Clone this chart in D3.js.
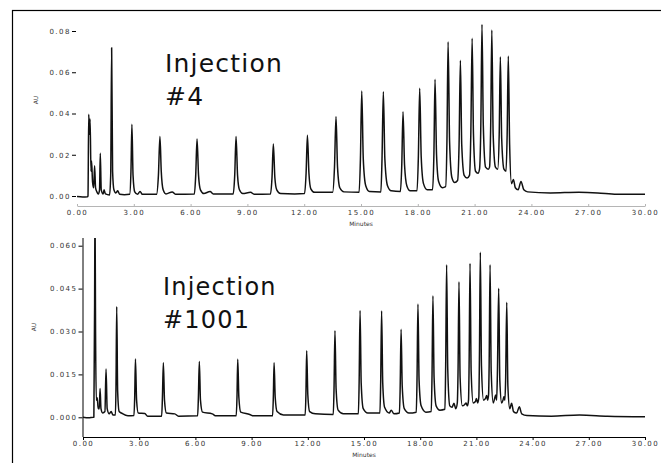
<!DOCTYPE html>
<html>
<head>
<meta charset="utf-8">
<script src="https://cdn.jsdelivr.net/npm/d3@7"></script>
<style>
body { margin: 0; background: #fff; }
text { font-family: "DejaVu Sans", Verdana, sans-serif; }
</style>
</head>
<body>
<div id="chart"></div>
<script>
// chromatogram traces: [minutes, AU]
var inj4 = [
	[0, -0.0003], [0.3, -0.0005], [0.55, -0.0004], [0.58, 0.000], [0.62, 0.0396], [0.66, 0.030], [0.69, 0.0373],
	[0.74, 0.012], [0.77, 0.017], [0.82, 0.007], [0.88, 0.004], [0.93, 0.0147], [0.98, 0.004], [1.05, 0.002],
	[1.13, 0.001], [1.19, 0.003], [1.23, 0.0207], [1.28, 0.003], [1.38, 0.001], [1.43, 0.003], [1.5, 0.001],
	[1.72, 0.0005], [1.78, 0.010], [1.83, 0.0719], [1.88, 0.012], [1.95, 0.003], [2.05, 0.0015], [2.15, 0.0025],
	[2.25, 0.0008], [2.5, 0.0006], [2.78, 0.0008], [2.85, 0.012], [2.90, 0.0348], [2.96, 0.010], [3.05, 0.002],
	[3.2, 0.0008], [3.33, 0.0022], [3.45, 0.0008], [4.2, 0.0008], [4.3, 0.010], [4.38, 0.0288], [4.45, 0.012],
	[4.55, 0.003], [4.7, 0.001], [5.03, 0.002], [5.2, 0.0008], [6.2, 0.001], [6.27, 0.010], [6.34, 0.0276],
	[6.42, 0.010], [6.52, 0.003], [6.7, 0.0012], [7.03, 0.0022], [7.2, 0.001], [8.25, 0.001], [8.33, 0.010],
	[8.40, 0.0288], [8.48, 0.010], [8.58, 0.003], [8.75, 0.0012], [9.17, 0.0018], [9.35, 0.0009], [10.22, 0.001],
	[10.30, 0.009], [10.37, 0.0252], [10.45, 0.009], [10.55, 0.003], [10.75, 0.0012], [11.5, 0.001], [12.02, 0.0012],
	[12.10, 0.011], [12.17, 0.0294], [12.25, 0.011], [12.35, 0.0035], [12.55, 0.0018], [13.5, 0.0018], [13.6, 0.014],
	[13.68, 0.0385], [13.76, 0.014], [13.88, 0.004], [14.1, 0.002], [14.9, 0.0018], [14.97, 0.018], [15.04, 0.0509],
	[15.12, 0.018], [15.25, 0.005], [15.45, 0.0022], [16.05, 0.002], [16.11, 0.018], [16.18, 0.0506], [16.26, 0.018],
	[16.4, 0.005], [16.6, 0.0025], [17.08, 0.0022], [17.15, 0.014], [17.22, 0.0409], [17.30, 0.015], [17.42, 0.005],
	[17.6, 0.0025], [17.96, 0.0025], [18.03, 0.019], [18.10, 0.0522], [18.18, 0.019], [18.3, 0.006], [18.5, 0.003],
	[18.78, 0.003], [18.85, 0.020], [18.91, 0.0566], [18.99, 0.020], [19.1, 0.007], [19.3, 0.004], [19.47, 0.0045],
	[19.54, 0.027], [19.60, 0.0748], [19.68, 0.026], [19.8, 0.009], [19.95, 0.0065], [20.1, 0.0075], [20.18, 0.025],
	[20.25, 0.0658], [20.32, 0.025], [20.45, 0.010], [20.6, 0.0087], [20.73, 0.010], [20.80, 0.030], [20.87, 0.0765],
	[20.94, 0.030], [21.05, 0.012], [21.18, 0.011], [21.26, 0.013], [21.33, 0.035], [21.39, 0.0832], [21.46, 0.034],
	[21.58, 0.014], [21.72, 0.013], [21.79, 0.014], [21.85, 0.034], [21.91, 0.0805], [21.98, 0.030], [22.1, 0.014],
	[22.22, 0.013], [22.30, 0.030], [22.36, 0.0675], [22.43, 0.028], [22.55, 0.013], [22.66, 0.012], [22.72, 0.030],
	[22.78, 0.0679], [22.85, 0.025], [22.95, 0.006], [23.05, 0.008], [23.15, 0.004], [23.3, 0.003], [23.45, 0.007],
	[23.6, 0.003], [23.8, 0.002], [25, 0.0015], [26.5, 0.0018], [27.5, 0.0015], [28.5, 0.0008], [30, 0.0008]
];

var inj1001 = [
	[0, 0.0], [0.3, -0.0002], [0.55, 0.0], [0.58, 0.000], [0.62, 0.040], [0.64, 0.075], [0.67, 0.030], [0.71, 0.006],
	[0.76, 0.0068], [0.81, 0.003], [0.87, 0.003], [0.91, 0.0101], [0.96, 0.003], [1.05, 0.0015], [1.17, 0.002],
	[1.23, 0.0169], [1.29, 0.003], [1.4, 0.0012], [1.5, 0.002], [1.6, 0.0008], [1.73, 0.0008], [1.76, 0.010],
	[1.80, 0.0387], [1.85, 0.009], [1.93, 0.002], [2.05, 0.0015], [2.4, 0.0005], [2.72, 0.0006], [2.76, 0.007],
	[2.80, 0.0204], [2.86, 0.006], [2.95, 0.0015], [3.3, 0.0013], [3.45, 0.0004], [4.2, 0.0004], [4.24, 0.007],
	[4.29, 0.0191], [4.35, 0.006], [4.45, 0.0015], [4.9, 0.0012], [5.1, 0.0004], [6.12, 0.0005], [6.16, 0.007],
	[6.21, 0.0195], [6.27, 0.006], [6.38, 0.0018], [6.9, 0.0012], [7.1, 0.0005], [8.18, 0.0005], [8.22, 0.007],
	[8.26, 0.0203], [8.32, 0.007], [8.42, 0.0018], [8.9, 0.001], [9.1, 0.0005], [10.12, 0.0005], [10.16, 0.007],
	[10.20, 0.0191], [10.26, 0.007], [10.36, 0.002], [10.7, 0.0008], [11.86, 0.0008], [11.90, 0.008], [11.94, 0.0233],
	[12.0, 0.008], [12.1, 0.002], [12.4, 0.0012], [13.36, 0.001], [13.40, 0.010], [13.45, 0.0303], [13.51, 0.010],
	[13.62, 0.0025], [13.9, 0.0012], [14.70, 0.0012], [14.74, 0.012], [14.79, 0.0373], [14.85, 0.012], [14.96, 0.003],
	[15.2, 0.0015], [15.85, 0.0015], [15.89, 0.012], [15.94, 0.0372], [16.0, 0.012], [16.1, 0.0035], [16.35, 0.0015],
	[16.45, 0.0025], [16.6, 0.0012], [16.89, 0.0015], [16.93, 0.010], [16.98, 0.0308], [17.04, 0.011], [17.15, 0.003],
	[17.4, 0.0015], [17.79, 0.0018], [17.83, 0.013], [17.88, 0.0396], [17.94, 0.013], [18.05, 0.004], [18.3, 0.0018],
	[18.59, 0.002], [18.63, 0.014], [18.68, 0.0425], [18.74, 0.014], [18.85, 0.004], [19.05, 0.0025], [19.32, 0.0028],
	[19.36, 0.018], [19.41, 0.0533], [19.47, 0.017], [19.58, 0.004], [19.7, 0.0035], [19.80, 0.0049], [19.9, 0.003],
	[19.98, 0.005], [20.02, 0.016], [20.07, 0.0474], [20.13, 0.014], [20.25, 0.004], [20.38, 0.0045], [20.45, 0.005],
	[20.52, 0.004], [20.58, 0.006], [20.61, 0.018], [20.66, 0.0538], [20.72, 0.016], [20.83, 0.005], [20.95, 0.0055],
	[21.0, 0.0066], [21.07, 0.005], [21.13, 0.007], [21.16, 0.020], [21.21, 0.0577], [21.27, 0.018], [21.38, 0.006],
	[21.48, 0.0065], [21.55, 0.0076], [21.6, 0.006], [21.65, 0.008], [21.68, 0.018], [21.73, 0.0533], [21.79, 0.016],
	[21.9, 0.005], [21.97, 0.0065], [22.03, 0.0078], [22.08, 0.006], [22.12, 0.015], [22.19, 0.0451], [22.25, 0.013],
	[22.35, 0.005], [22.42, 0.006], [22.47, 0.0072], [22.52, 0.006], [22.56, 0.013], [22.62, 0.0402], [22.68, 0.011],
	[22.78, 0.003], [22.88, 0.0049], [22.98, 0.002], [23.15, 0.0015], [23.29, 0.0037], [23.42, 0.0012], [23.7, 0.0006],
	[25, 0.0004], [26.5, 0.0008], [28, 0.0004], [30, 0.0002]
];

var xTicks = [0, 3, 6, 9, 12, 15, 18, 21, 24, 27, 30];
var yTicks4 = [0, 0.02, 0.04, 0.06, 0.08];
var yTicks1001 = [0, 0.015, 0.030, 0.045, 0.060];
var labels = [["Injection", "#4"], ["Injection", "#1001"]];

var svg = d3.select("#chart")
	.append("svg")
	.attr("width", 661)
	.attr("height", 463);

// outer frame, runs off right and bottom
svg.append("rect")
	.attr("x", 12.5).attr("y", 10.5)
	.attr("width", 700).attr("height", 500)
	.attr("fill", "none")
	.attr("stroke", "#000")
	.attr("stroke-width", 1.2);

function panel(cfg) {
	var x = d3.scaleLinear().domain([0, 30]).range([cfg.left, 645]);
	var y = d3.scaleLinear().domain(cfg.yDomain).range(cfg.yRange);
	var g = svg.append("g");

	g.append("clipPath").attr("id", cfg.id)
		.append("rect")
		.attr("x", cfg.left).attr("y", cfg.clipTop)
		.attr("width", 645 - cfg.left).attr("height", cfg.axisY - cfg.clipTop);

	// x axis
	var xa = g.append("g")
		.attr("transform", "translate(0," + cfg.axisY + ")")
		.call(d3.axisBottom(x).tickValues(xTicks).tickFormat(d3.format(".2f")).tickSize(cfg.xTick).tickSizeOuter(0));
	xa.select(".domain").attr("stroke", cfg.axisColor);
	xa.selectAll(".tick line").attr("stroke", cfg.axisColor);
	xa.selectAll("text")
		.attr("dy", "0.71em").attr("y", 4)
		.attr("fill", "#333").style("font-size", "7px").style("letter-spacing", "1.5px");

	// y axis
	var ya = g.append("g")
		.attr("transform", "translate(" + cfg.yAxisX + ",0)")
		.call(d3.axisLeft(y).tickValues(cfg.yTicks).tickFormat(d3.format(cfg.fmt)).tickSize(4).tickSizeOuter(0));
	if (cfg.yLine) {
		ya.select(".domain").attr("d", "M0.5," + cfg.clipTop + "V" + cfg.axisY).attr("stroke", "#000");
	} else {
		ya.select(".domain").remove();
	}
	ya.selectAll("text")
		.attr("x", -5)
		.attr("fill", "#333").style("font-size", "7px").style("letter-spacing", "1.5px");

	g.append("text")
		.attr("transform", "translate(" + cfg.auX + "," + cfg.auY + ") rotate(-90)")
		.attr("text-anchor", "middle")
		.attr("fill", "#333").style("font-size", "6px")
		.text("AU");

	g.append("text")
		.attr("x", (cfg.left + 645) / 2).attr("y", cfg.minutesY)
		.attr("text-anchor", "middle")
		.attr("fill", "#333").style("font-size", "6px")
		.text("Minutes");

	var line = d3.line()
		.curve(d3.curveMonotoneX)
		.x(function(d) { return x(d[0]); })
		.y(function(d) { return y(d[1]); });

	g.append("path")
		.datum(cfg.data)
		.attr("clip-path", "url(#" + cfg.id + ")")
		.attr("fill", "none")
		.attr("stroke", "#111")
		.attr("stroke-width", 1.5)
		.attr("stroke-linejoin", "round")
		.attr("d", line);

	var t = g.append("text")
		.attr("x", cfg.textX).attr("y", cfg.textY)
		.attr("fill", "#111")
		.style("font-size", cfg.textSize + "px")
		.style("letter-spacing", "1.2px");
	t.append("tspan").attr("x", cfg.textX).text(cfg.label[0]);
	t.append("tspan").attr("x", cfg.textX).attr("dy", 33).text(cfg.label[1]);
}

panel({
	id: "clip4", data: inj4, label: labels[0], left: 77, yAxisX: 76,
	yDomain: [0, 0.08], yRange: [196, 31], yTicks: yTicks4, fmt: ".2f",
	axisY: 206, clipTop: 14, axisColor: "#b5b5b5", yLine: false, minutesY: 226, xTick: -2,
	auX: 38, auY: 100, textX: 165, textY: 72, textSize: 25
});

panel({
	id: "clip1001", data: inj1001, label: labels[1], left: 83, yAxisX: 82.5,
	yDomain: [0, 0.060], yRange: [417.3, 245.7], yTicks: yTicks1001, fmt: ".3f",
	axisY: 437, clipTop: 238, axisColor: "#000", yLine: true, minutesY: 457, xTick: 3,
	auX: 36, auY: 327, textX: 163, textY: 295, textSize: 24
});
</script>
</body>
</html>
